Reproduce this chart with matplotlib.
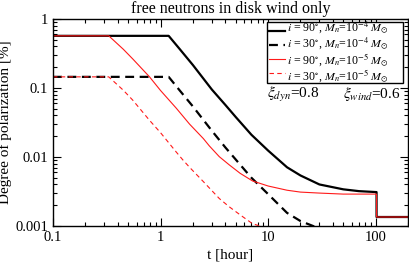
import matplotlib
matplotlib.use("Agg")
import matplotlib.pyplot as plt
from matplotlib.lines import Line2D
from matplotlib.patches import Rectangle
from matplotlib.ticker import LogLocator, FixedLocator, FixedFormatter, NullFormatter

plt.rcParams['font.family'] = ['Liberation Serif', 'DejaVu Serif']
plt.rcParams['mathtext.fontset'] = 'stix'

# --- data ---
t_black_solid = [0.1, 1.19, 1.5, 2, 3, 4, 5, 7, 10, 15, 20, 30, 50, 70, 102, 102, 200]
p_black_solid = [0.57, 0.57, 0.37, 0.215, 0.095, 0.057, 0.038, 0.021, 0.0124, 0.0071,
                 0.0054, 0.0040, 0.0034, 0.0032, 0.0031, 0.00135, 0.00135]

t_black_dash = [0.1, 1.19, 1.5, 2, 3, 4, 5, 7, 10, 15, 20, 30, 50]
p_black_dash = [0.145, 0.145, 0.093, 0.054, 0.024, 0.0138, 0.0092, 0.0050, 0.0029,
                0.00155, 0.00118, 0.00092, 0.00083]

t_red_solid = [0.1, 0.33, 0.45, 0.55, 0.79, 1.0, 1.4, 1.86, 2.5, 2.84, 3.52, 4.35, 5.5,
               7.16, 10, 15, 20, 30, 50, 102, 102, 200]
p_red_solid = [0.57, 0.57, 0.365, 0.265, 0.145, 0.092, 0.051, 0.030, 0.0185, 0.0145,
               0.0101, 0.0077, 0.0058, 0.0045, 0.0038, 0.0033, 0.0031, 0.0030, 0.0029,
               0.0029, 0.00135, 0.00135]

t_red_dash = [0.1, 0.33, 0.45, 0.55, 0.79, 1.0, 1.4, 1.61, 1.86, 2.5, 3.52, 4.35, 5.5,
              7.16, 10, 20]
p_red_dash = [0.145, 0.145, 0.093, 0.067, 0.034, 0.0225, 0.0118, 0.0091, 0.0071, 0.0044,
              0.0025, 0.0019, 0.00145, 0.00108, 0.00092, 0.0008]

labels = [r'$i$ = 90$^{\circ}$, $M_n$=10$^{-4}$ $M_{\odot}$',
          r'$i$ = 30$^{\circ}$, $M_n$=10$^{-4}$ $M_{\odot}$',
          r'$i$ = 90$^{\circ}$, $M_n$=10$^{-5}$ $M_{\odot}$',
          r'$i$ = 30$^{\circ}$, $M_n$=10$^{-5}$ $M_{\odot}$']

x_ticks = [0.1, 1, 10, 100]
x_ticklabels = ['0.1', '1', '10', '100']
y_ticks = [0.001, 0.01, 0.1, 1]
y_ticklabels = ['0.001', '0.01', '0.1', '1']

W, H = 409, 264
fig = plt.figure(figsize=(W/100, H/100), dpi=100)
ax = fig.add_axes([53/W, 1-226/H, (408-53)/W, (226-19)/H])

styles = [dict(color='black', lw=1.6),
          dict(color='black', lw=1.6, dashes=(4, 2.5)),
          dict(color='#ff1a1a', lw=0.8),
          dict(color='#ff1a1a', lw=0.8, dashes=(4, 3))]
series = [(t_black_solid, p_black_solid), (t_black_dash, p_black_dash),
          (t_red_solid, p_red_solid), (t_red_dash, p_red_dash)]
for (tt, pp), st in zip(series, styles):
    ax.plot(tt, pp, **st)

ax.set_xscale('log')
ax.set_yscale('log')
ax.set_xlim(0.1, 200)
ax.set_ylim(0.001, 1)

ax.xaxis.set_major_locator(FixedLocator(x_ticks))
ax.xaxis.set_major_formatter(FixedFormatter(x_ticklabels))
ax.yaxis.set_major_locator(FixedLocator(y_ticks))
ax.yaxis.set_major_formatter(FixedFormatter(y_ticklabels))
ax.xaxis.set_minor_locator(LogLocator(base=10, subs=range(2, 10), numticks=20))
ax.yaxis.set_minor_locator(LogLocator(base=10, subs=range(2, 10), numticks=20))
ax.xaxis.set_minor_formatter(NullFormatter())
ax.yaxis.set_minor_formatter(NullFormatter())

ax.tick_params(which='both', direction='in', top=True, right=True, labelsize=10.5, width=0.8)
ax.tick_params(which='major', length=6)
ax.tick_params(which='minor', length=3)
for s in ax.spines.values():
    s.set_linewidth(1.0)

ax.set_xlabel('t [hour]', fontsize=11, labelpad=3)
ax.set_ylabel('Degree of polarization [%]', fontsize=11, labelpad=2)
ax.set_title('free neutrons in disk wind only', fontsize=11.5, pad=4)

# legend built by hand: frame, handles, and one multi-line label block
tf = fig.transFigure
frame = Rectangle((267/W, 1-83/H), (403-267)/W, (83-22)/H, transform=tf,
                  facecolor='white', edgecolor='black', lw=1.0, zorder=10, clip_on=False)
ax.add_patch(frame)
row_y = [31, 45, 59, 73]
for yy, st in zip(row_y, styles):
    ln = Line2D([269/W, 285/W], [1-yy/H, 1-yy/H], transform=tf, zorder=11, **st)
    ln.set_clip_on(False)
    ax.add_line(ln)
ax.text(287/W, 1-52/H, '\n'.join(labels), transform=tf, fontsize=8.6,
        va='center', ha='left', linespacing=1.0, zorder=12)

fig.text(267/W, 1-94/H, r'$\xi_{dyn}$=0.8', fontsize=11, va='center', ha='left')
fig.text(343/W, 1-94/H, r'$\xi_{wind}$=0.6', fontsize=11, va='center', ha='left')

fig.savefig('out.png', dpi=100)
